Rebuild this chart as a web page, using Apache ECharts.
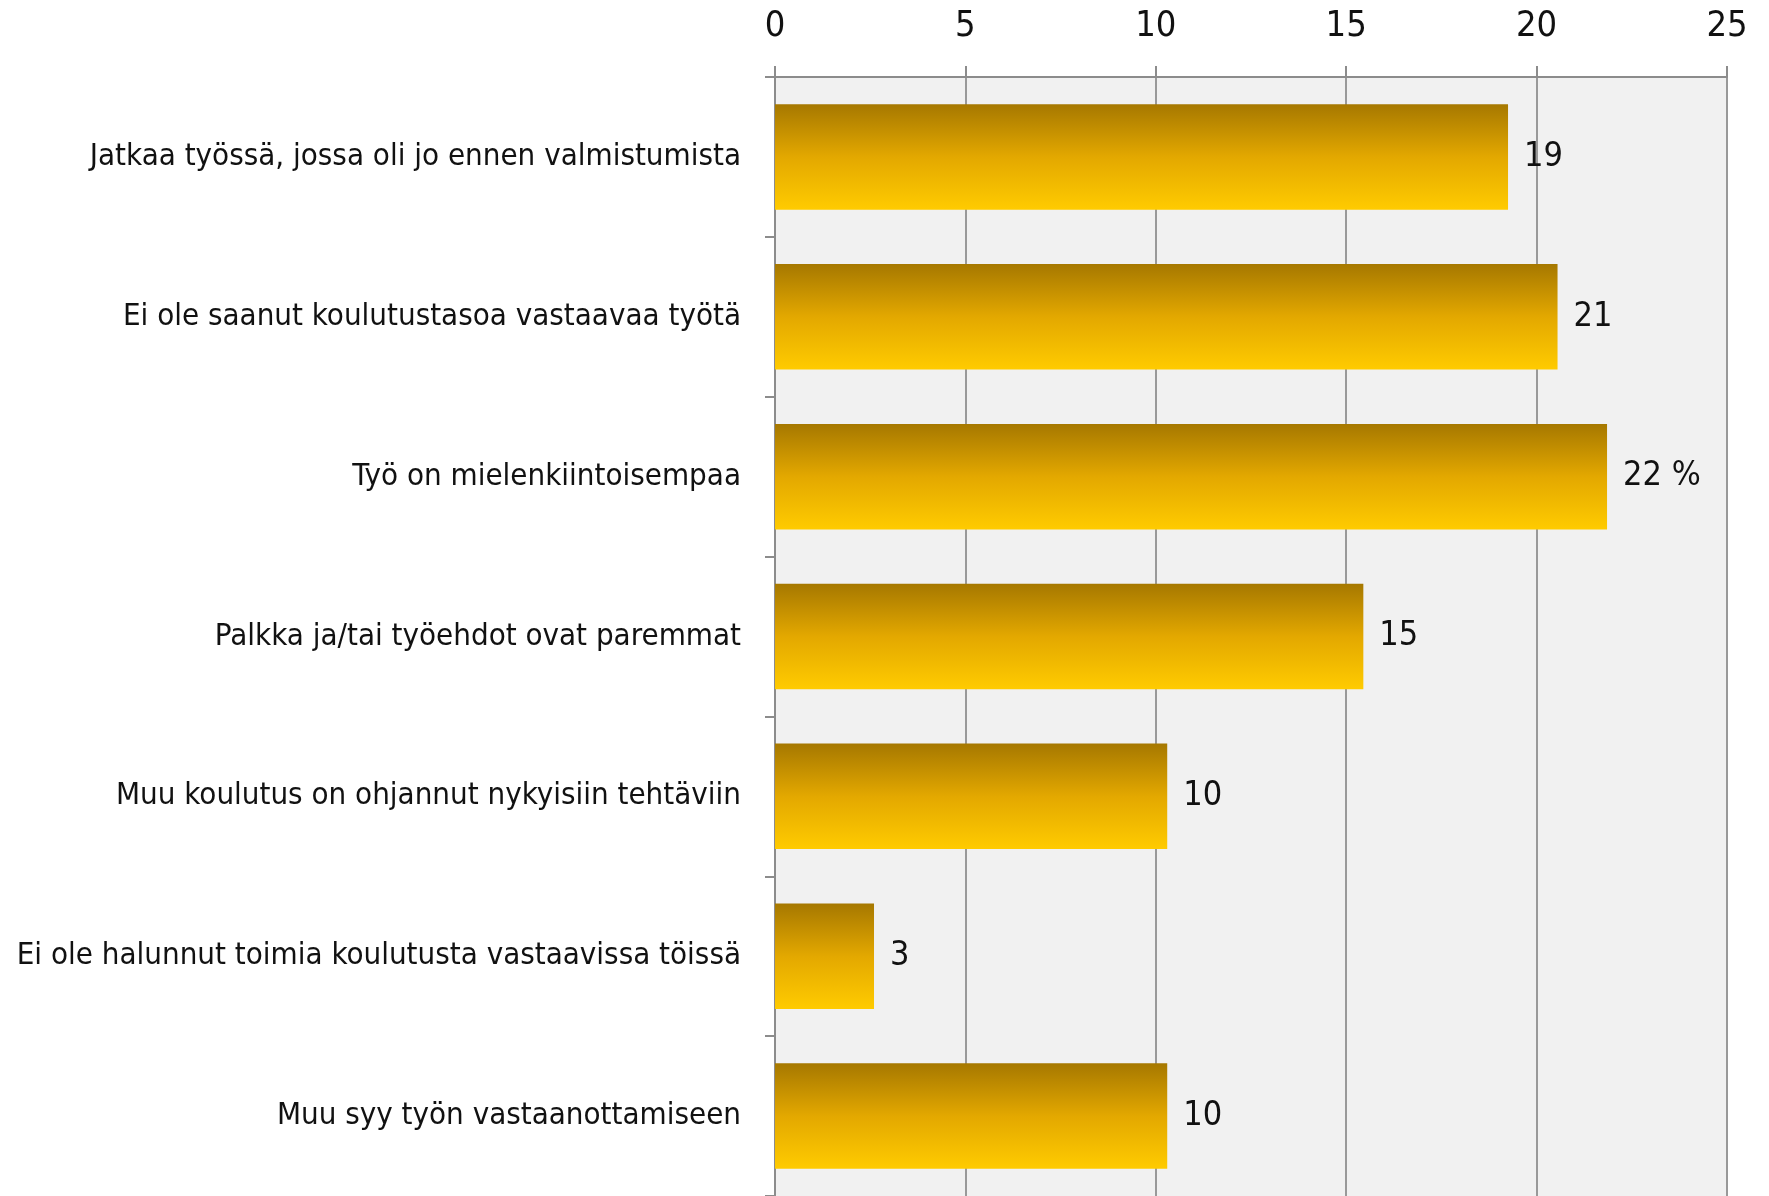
<!DOCTYPE html>
<html>
<head>
<meta charset="utf-8">
<script src="https://cdn.jsdelivr.net/npm/echarts@6/dist/echarts.min.js"></script>
<style>
  html, body { margin: 0; padding: 0; background: #fff; }
  #chart { width: 1769px; height: 1196px; }
</style>
</head>
<body>
<div id="chart"></div>
<script>
  // data
  const categories = [
    'Jatkaa työssä, jossa oli jo ennen valmistumista',
    'Ei ole saanut koulutustasoa vastaavaa työtä',
    'Työ on mielenkiintoisempaa',
    'Palkka ja/tai työehdot ovat paremmat',
    'Muu koulutus on ohjannut nykyisiin tehtäviin',
    'Ei ole halunnut toimia koulutusta vastaavissa töissä',
    'Muu syy työn vastaanottamiseen'
  ];
  const values = [19.25, 20.55, 21.85, 15.45, 10.3, 2.6, 10.3];
  const valueLabels = ['19', '21', '22 %', '15', '10', '3', '10'];
  const ticks = [0, 5, 10, 15, 20, 25];

  const font = "'Liberation Sans Narrow', 'DejaVu Sans Condensed', sans-serif";
  const myChart = echarts.init(document.getElementById('chart'));

  const option = {
    animation: false,
    grid: {
      left: 775,
      right: 42,
      top: 77,
      bottom: 0,
      outerBoundsMode: 'none',
      containLabel: false,
      show: true,
      backgroundColor: '#f1f1f1',
      borderWidth: 0
    },
    xAxis: {
      type: 'value',
      position: 'top',
      min: ticks[0],
      max: ticks[ticks.length - 1],
      interval: 5,
      axisLine: { show: true, lineStyle: { color: '#8c8c8c', width: 2 } },
      axisTick: { show: true, length: 11, lineStyle: { color: '#8c8c8c', width: 2 } },
      axisLabel: {
        margin: 32,
        fontFamily: font,
        fontSize: 36,
        color: '#111'
      },
      splitLine: { show: true, lineStyle: { color: '#999999', width: 2 } }
    },
    yAxis: {
      type: 'category',
      inverse: true,
      data: categories,
      axisLine: { show: true, lineStyle: { color: '#8c8c8c', width: 2 } },
      axisTick: { show: true, length: 10, lineStyle: { color: '#8c8c8c', width: 2 } },
      axisLabel: {
        margin: 34,
        fontFamily: font,
        fontSize: 31,
        color: '#111',
        padding: [6, 0, 0, 0]
      }
    },
    series: [
      {
        type: 'bar',
        data: values,
        barCategoryGap: '34%',
        itemStyle: {
          color: new echarts.graphic.LinearGradient(0, 0, 0, 1, [
            { offset: 0, color: '#a67800' },
            { offset: 0.5, color: '#e3a800' },
            { offset: 1, color: '#ffcb00' }
          ])
        },
        label: {
          show: true,
          position: 'right',
          distance: 16,
          fontFamily: font,
          fontSize: 34,
          color: '#111',
          padding: [8, 0, 0, 0],
          formatter: (p) => valueLabels[p.dataIndex]
        }
      }
    ]
  };

  myChart.setOption(option);
</script>
</body>
</html>
